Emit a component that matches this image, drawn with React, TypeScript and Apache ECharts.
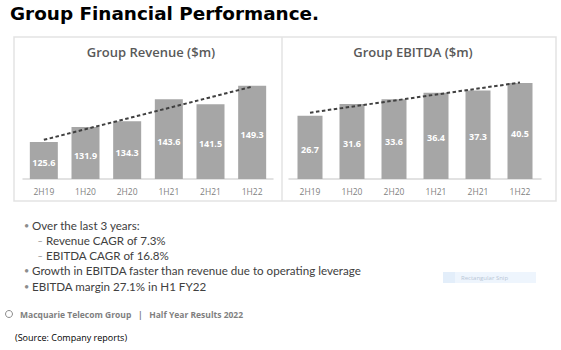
import React, { useEffect, useRef } from "react";
import * as echarts from "echarts";

const categories = ["2H19", "1H20", "2H20", "1H21", "2H21", "1H22"];
const revenueValues = [125.6, 131.9, 134.3, 143.6, 141.5, 149.3];
const ebitdaValues = [26.7, 31.6, 33.6, 36.4, 37.3, 40.5];
// dashed trend line end points
const revenueTrend = [126.5, 148.9];
const ebitdaTrend = [28.0, 40.7];
const bullets = [
  { level: 0, text: "Over the last 3 years:" },
  { level: 1, text: "Revenue CAGR of 7.3%" },
  { level: 1, text: "EBITDA CAGR of 16.8%" },
  { level: 0, text: "Growth in EBITDA faster than revenue due to operating leverage" },
  { level: 0, text: "EBITDA margin 27.1% in H1 FY22" },
];

export default function App() {
  const ref = useRef<HTMLDivElement>(null);
  useEffect(() => {
    document.body.style.margin = "0";
    const chart = echarts.init(ref.current!, null, { renderer: "svg" });
    const first = categories[0];
    const last = categories[categories.length - 1];
    const barLabel = {
      show: true,
      position: "inside",
      color: "#ffffff",
      fontFamily: "Open Sans",
      fontWeight: "bold",
      fontSize: 9,
      offset: [0, 2],
    };
    const xAxisCommon = {
      type: "category",
      data: categories,
      axisTick: { show: false },
      axisLine: { lineStyle: { color: "#d9d9d9", width: 1.5 } },
      axisLabel: { color: "#7f7f7f", fontFamily: "Open Sans", fontSize: 8.5, margin: 8 },
    };
    const bulletGraphics: any[] = [];
    const rowY = [225, 240.5, 255.5, 270.5, 286];
    bullets.forEach((b, i) => {
      bulletGraphics.push({
        type: "text",
        x: b.level === 0 ? 24 : 37.5,
        y: rowY[i],
        style: {
          text: b.level === 0 ? "•" : "–",
          fill: "#8c8c8c",
          font: "9px Lato",
          textVerticalAlign: "middle",
        },
      });
      bulletGraphics.push({
        type: "text",
        x: b.level === 0 ? 32 : 46,
        y: rowY[i],
        style: {
          text: b.text,
          fill: "#404040",
          font: "11.6px Lato",
          textVerticalAlign: "middle",
        },
      });
    });
    chart.setOption({
      animation: false,
      grid: [
        { left: 23, width: 250, top: 60.3, bottom: 171 },
        { left: 289, width: 252, top: 60.5, bottom: 171 },
      ],
      xAxis: [
        { ...xAxisCommon, gridIndex: 0 },
        { ...xAxisCommon, gridIndex: 1 },
      ],
      yAxis: [
        { type: "value", gridIndex: 0, min: 110, max: 160, show: false, splitLine: { show: false } },
        { type: "value", gridIndex: 1, min: 0, max: 50, show: false, splitLine: { show: false } },
      ],
      series: [
        {
          type: "bar",
          xAxisIndex: 0,
          yAxisIndex: 0,
          data: revenueValues,
          barWidth: 28,
          itemStyle: { color: "#a6a6a6" },
          label: barLabel,
        },
        {
          type: "bar",
          xAxisIndex: 1,
          yAxisIndex: 1,
          data: ebitdaValues,
          barWidth: 25,
          itemStyle: { color: "#a6a6a6" },
          label: barLabel,
        },
        {
          type: "line",
          xAxisIndex: 0,
          yAxisIndex: 0,
          data: [[first, revenueTrend[0]], [last, revenueTrend[1]]],
          symbol: "none",
          z: 5,
          lineStyle: { color: "#404040", width: 2, type: [3.5, 2.5] },
        },
        {
          type: "line",
          xAxisIndex: 1,
          yAxisIndex: 1,
          data: [[first, ebitdaTrend[0]], [last, ebitdaTrend[1]]],
          symbol: "none",
          z: 5,
          lineStyle: { color: "#404040", width: 2, type: [3.5, 2.5] },
        },
      ],
      graphic: [
        {
          type: "text",
          x: 10,
          y: 4.5,
          style: { text: "Group Financial Performance.", fill: "#000000", font: "bold 18.4px DejaVu Sans" },
        },
        {
          type: "rect",
          shape: { x: 14, y: 37, width: 542, height: 164 },
          style: { fill: "none", stroke: "#e3e3e3", lineWidth: 1.5 },
          z: -1,
        },
        {
          type: "line",
          shape: { x1: 282, y1: 37, x2: 282, y2: 201 },
          style: { stroke: "#e3e3e3", lineWidth: 1.5 },
        },
        {
          type: "text",
          x: 151,
          y: 52,
          style: {
            text: "Group Revenue ($m)",
            fill: "#595959",
            font: "600 13px Open Sans",
            textAlign: "center",
            textVerticalAlign: "middle",
          },
        },
        {
          type: "text",
          x: 413,
          y: 52,
          style: {
            text: "Group EBITDA ($m)",
            fill: "#595959",
            font: "600 13px Open Sans",
            textAlign: "center",
            textVerticalAlign: "middle",
          },
        },
        ...bulletGraphics,
        {
          type: "rect",
          shape: { x: 443, y: 272, width: 93, height: 11 },
          style: { fill: "#eef5fd" },
        },
        {
          type: "rect",
          shape: { x: 443, y: 272, width: 12, height: 11 },
          style: { fill: "#e3eefa" },
        },
        {
          type: "text",
          x: 461,
          y: 277.5,
          style: { text: "Rectangular Snip", fill: "#b9c6d6", font: "6px Open Sans", textVerticalAlign: "middle" },
        },
        {
          type: "circle",
          shape: { cx: 9, cy: 314, r: 3.5 },
          style: { fill: "none", stroke: "#8c8c8c", lineWidth: 1 },
        },
        {
          type: "text",
          x: 20,
          y: 314,
          style: {
            text: "Macquarie Telecom Group   |   Half Year Results 2022",
            fill: "#7f7f7f",
            font: "bold 8.5px Open Sans",
            textVerticalAlign: "middle",
          },
        },
        {
          type: "text",
          x: 15,
          y: 337,
          style: {
            text: "(Source: Company reports)",
            fill: "#000000",
            font: "9px Open Sans",
            textVerticalAlign: "middle",
          },
        },
      ],
    });
    return () => chart.dispose();
  }, []);
  return <div ref={ref} style={{ position: "absolute", left: 0, top: 0, width: 561, height: 350 }} />;
}
